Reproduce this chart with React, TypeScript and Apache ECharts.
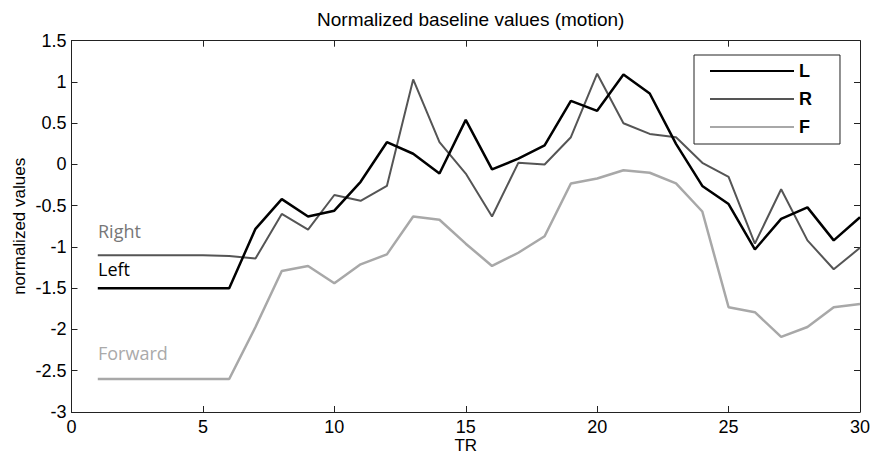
import React, { useEffect, useRef } from "react";
import * as echarts from "echarts";

const trs = Array.from({ length: 30 }, (_, i) => i + 1);
const leftValues = [-1.5, -1.5, -1.5, -1.5, -1.5, -1.5, -0.78, -0.42, -0.63, -0.56, -0.21, 0.27, 0.13, -0.11, 0.54, -0.06, 0.07, 0.23, 0.77, 0.65, 1.09, 0.86, 0.25, -0.26, -0.48, -1.03, -0.66, -0.52, -0.92, -0.64];
const rightValues = [-1.1, -1.1, -1.1, -1.1, -1.1, -1.11, -1.14, -0.6, -0.79, -0.37, -0.44, -0.26, 1.03, 0.27, -0.11, -0.63, 0.02, 0.0, 0.33, 1.1, 0.5, 0.37, 0.33, 0.02, -0.15, -0.96, -0.3, -0.92, -1.27, -1.01];
const forwardValues = [-2.6, -2.6, -2.6, -2.6, -2.6, -2.6, -1.97, -1.29, -1.23, -1.44, -1.21, -1.09, -0.63, -0.67, -0.96, -1.23, -1.07, -0.87, -0.23, -0.17, -0.07, -0.1, -0.23, -0.57, -1.73, -1.79, -2.09, -1.97, -1.73, -1.69];
const seriesNames = ["L", "R", "F"];
const annotations = ["Right", "Left", "Forward"];

export default function App() {
  const ref = useRef<HTMLDivElement>(null);
  useEffect(() => {
    if (!ref.current) return;
    const chart = echarts.init(ref.current, null, { renderer: "svg" });
    const font = "Arial, 'Liberation Sans', Helvetica, sans-serif";
    const axisCommon = {
      axisLine: { show: true, onZero: false, lineStyle: { color: "#222", width: 1 } },
      axisTick: { show: true, inside: true, length: 6, lineStyle: { color: "#222" } },
      splitLine: { show: false },
    };
    const mk = (data: number[]) => trs.map((x, i) => [x, data[i]]);
    chart.setOption({
      animation: false,
      backgroundColor: "#fff",
      title: {
        text: "Normalized baseline values (motion)",
        left: 465.7,
        textAlign: "center",
        top: 5,
        textStyle: { fontFamily: font, fontSize: 19, fontWeight: "normal", color: "#000" },
      },
      grid: { left: 71.5, right: 12, top: 40.7, bottom: 43, outerBoundsMode: "none", containLabel: false },
      xAxis: [
        {
          type: "value",
          min: 0,
          max: 30,
          interval: 5,
          name: "TR",
          nameLocation: "middle",
          nameGap: 25,
          nameMoveOverlap: false,
          nameTextStyle: { fontFamily: font, fontSize: 17, color: "#000" },
          axisLabel: { fontFamily: font, fontSize: 18, color: "#000", margin: 6 },
          ...axisCommon,
        },
        {
          type: "value",
          position: "top",
          min: 0,
          max: 30,
          interval: 5,
          axisLabel: { show: false },
          ...axisCommon,
        },
      ],
      yAxis: [
        {
          type: "value",
          min: -3,
          max: 1.5,
          interval: 0.5,
          name: "normalized values",
          nameLocation: "middle",
          nameGap: 44,
          nameMoveOverlap: false,
          nameTextStyle: { fontFamily: font, fontSize: 17, color: "#000" },
          axisLabel: { fontFamily: font, fontSize: 18, color: "#000", margin: 5 },
          ...axisCommon,
        },
        {
          type: "value",
          position: "right",
          min: -3,
          max: 1.5,
          interval: 0.5,
          axisLabel: { show: false },
          ...axisCommon,
        },
      ],
      legend: {
        orient: "vertical",
        left: 694,
        top: 55,
        padding: [7, 28, 8, 15],
        itemWidth: 84,
        itemHeight: 14,
        itemGap: 10,
        borderColor: "#222",
        borderWidth: 1,
        backgroundColor: "#fff",
        itemStyle: { opacity: 0 },
        textStyle: { fontFamily: font, fontSize: 18, fontWeight: "bold", color: "#000" },
        data: seriesNames,
      },
      series: [
        {
          name: seriesNames[0],
          type: "line",
          data: mk(leftValues),
          symbol: "none",
          lineStyle: { color: "#000", width: 2.5 },
          itemStyle: { color: "#000" },
          z: 3,
        },
        {
          name: seriesNames[1],
          type: "line",
          data: mk(rightValues),
          symbol: "none",
          lineStyle: { color: "#555", width: 2 },
          itemStyle: { color: "#555" },
          z: 2,
        },
        {
          name: seriesNames[2],
          type: "line",
          data: mk(forwardValues),
          symbol: "none",
          lineStyle: { color: "#a8a8a8", width: 2.5 },
          itemStyle: { color: "#a8a8a8" },
          z: 1,
        },
      ],
      graphic: [
        { type: "text", left: 98, top: 222, style: { text: annotations[0], fill: "#777", font: "18px 'Open Sans', sans-serif" } },
        { type: "text", left: 98, top: 260, style: { text: annotations[1], fill: "#000", font: "18px 'Open Sans', sans-serif" } },
        { type: "text", left: 98, top: 344, style: { text: annotations[2], fill: "#aaa", font: "18px 'Open Sans', sans-serif" } },
      ],
    });
    return () => chart.dispose();
  }, []);
  return <div ref={ref} style={{ width: 872, height: 455, position: "absolute", left: 0, top: 0 }} />;
}
